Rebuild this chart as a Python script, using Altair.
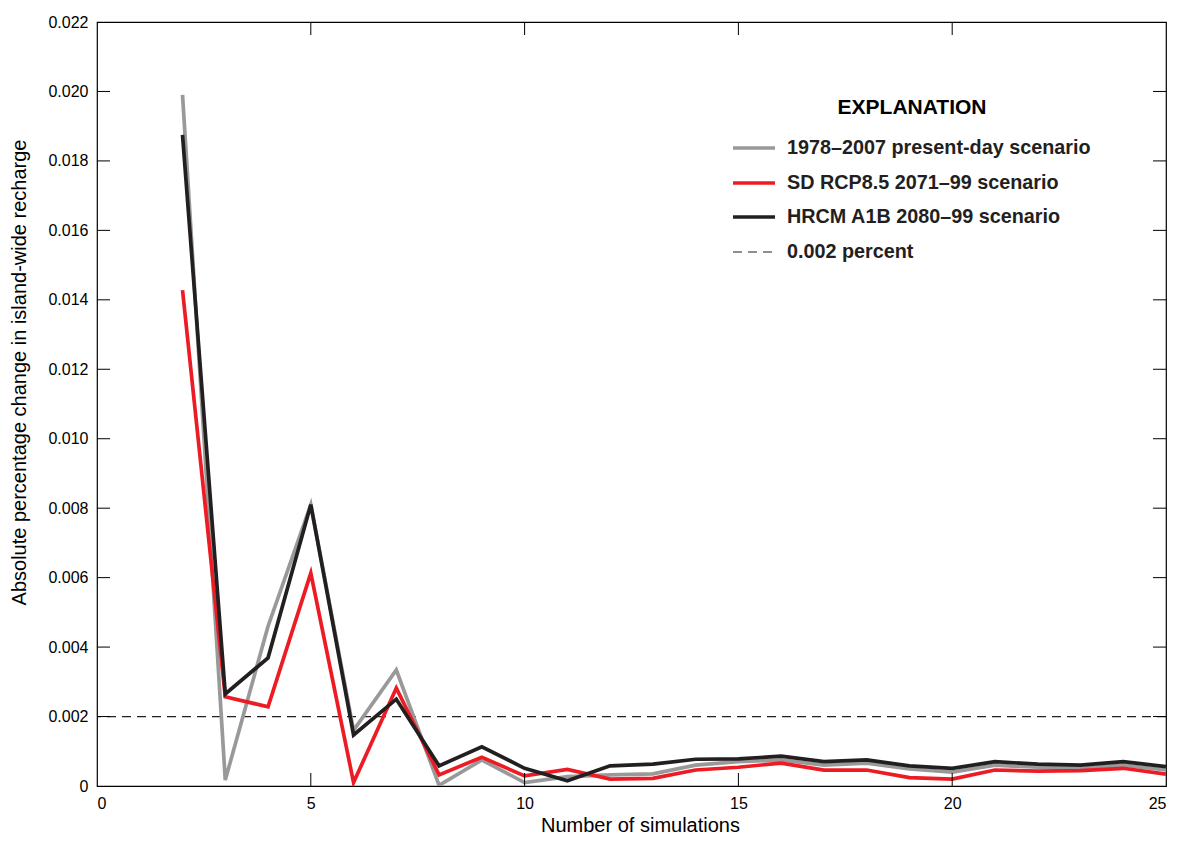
import altair as alt
import pandas as pd

# ---- data ----
sims = list(range(2, 26))
present_day = [0.0199, 0.00017, 0.0046, 0.0081, 0.0016, 0.00334, 0.00002, 0.00075,
               0.0001, 0.00027, 0.00032, 0.00035, 0.0006, 0.0007, 0.00075, 0.0006,
               0.00066, 0.00049, 0.0004, 0.0006, 0.00054, 0.00051, 0.0006, 0.00046]
sd_rcp85 = [0.01428, 0.00257, 0.00228, 0.00613, 0.0001, 0.00282, 0.00032, 0.00083,
            0.00029, 0.00048, 0.0002, 0.00022, 0.00046, 0.00054, 0.00066, 0.00046,
            0.00046, 0.00024, 0.0002, 0.00046, 0.00043, 0.00044, 0.00051, 0.00034]
hrcm_a1b = [0.01875, 0.00265, 0.00369, 0.0081, 0.00147, 0.0025, 0.00058, 0.00113,
            0.00051, 0.00015, 0.00058, 0.00063, 0.00077, 0.00078, 0.00086, 0.0007,
            0.00075, 0.00058, 0.00051, 0.0007, 0.00063, 0.0006, 0.0007, 0.00056]
series_names = ["1978\u20132007 present-day scenario",
                "SD RCP8.5 2071\u201399 scenario",
                "HRCM A1B 2080\u201399 scenario"]
threshold_label = "0.002 percent"
threshold = 0.002
y_ticks = [0, 0.002, 0.004, 0.006, 0.008, 0.010, 0.012, 0.014, 0.016, 0.018, 0.020, 0.022]
x_ticks = [0, 5, 10, 15, 20, 25]
legend_title = "EXPLANATION"
x_title = "Number of simulations"
y_title = "Absolute percentage change in island-wide recharge"

# ---- styles ----
colors = ["#999999", "#ED1C24", "#231F20"]
FONT = "Liberation Sans"
W, H = 1069, 764
TICK = 13

xs = alt.Scale(domain=[0, 25], nice=False, zero=False)
ys = alt.Scale(domain=[0, 0.022], nice=False)

all_series = [present_day, sd_rcp85, hrcm_a1b]
layers = []

# threshold dashed line
thr_df = pd.DataFrame({"y": [threshold]})
layers.append(alt.Chart(thr_df).mark_rule(color="#231F20", strokeWidth=1.2, strokeDash=[9, 6]).encode(
    y=alt.Y("y:Q", scale=ys)))

for i, (name, vals) in enumerate(zip(series_names, all_series)):
    df = pd.DataFrame({"x": sims, "y": vals})
    ch = alt.Chart(df).mark_line(color=colors[i], strokeWidth=3.7, clip=True).encode(
        x=alt.X("x:Q", scale=xs,
                axis=alt.Axis(values=x_ticks, title=x_title, domain=False, ticks=False, grid=False,
                              labelFont=FONT, labelFontSize=16, labelColor="black", labelPadding=9,
                              titleFont=FONT, titleFontSize=20, titleFontWeight="normal",
                              titleColor="black", titlePadding=4, titleX=543)),
        y=alt.Y("y:Q", scale=ys,
                axis=alt.Axis(values=y_ticks, title=y_title, domain=False, ticks=False, grid=False,
                              labelExpr="datum.value == 0 ? '0' : format(datum.value, '.3f')",
                              labelFont=FONT, labelFontSize=16, labelColor="black", labelPadding=9,
                              titleFont=FONT, titleFontSize=20, titleFontWeight="normal",
                              titleColor="black", titlePadding=18, titleY=350)),
    )
    layers.append(ch)

# inward ticks on all four sides
yt_df = pd.DataFrame({"v": y_ticks[1:-1]})
xt_df = pd.DataFrame({"v": x_ticks[1:-1]})
layers.append(alt.Chart(yt_df).mark_rule(color="black", strokeWidth=1).encode(
    y=alt.Y("v:Q", scale=ys), x=alt.value(0), x2=alt.value(TICK)))
layers.append(alt.Chart(yt_df).mark_rule(color="black", strokeWidth=1).encode(
    y=alt.Y("v:Q", scale=ys), x=alt.value(W - TICK), x2=alt.value(W)))
layers.append(alt.Chart(xt_df).mark_rule(color="black", strokeWidth=1).encode(
    x=alt.X("v:Q", scale=xs), y=alt.value(H - TICK), y2=alt.value(H)))
layers.append(alt.Chart(xt_df).mark_rule(color="black", strokeWidth=1).encode(
    x=alt.X("v:Q", scale=xs), y=alt.value(0), y2=alt.value(TICK)))

# manual legend ("EXPLANATION")
LX0, LX1, LTX = 636, 678, 690
row_y = [126, 161, 195, 230]
layers.append(alt.Chart(pd.DataFrame({"t": [legend_title]})).mark_text(
    font=FONT, fontSize=21, fontWeight="bold", color="black", align="center", baseline="middle").encode(
    text="t:N", x=alt.value(815), y=alt.value(86)))
legend_items = series_names + [threshold_label]
for i, lab in enumerate(legend_items):
    d = pd.DataFrame({"t": [lab]})
    if i < 3:
        layers.append(alt.Chart(d).mark_rule(color=colors[i], strokeWidth=3.7).encode(
            x=alt.value(LX0), x2=alt.value(LX1), y=alt.value(row_y[i])))
    else:
        layers.append(alt.Chart(d).mark_rule(color="#231F20", strokeWidth=1.2, strokeDash=[9, 6]).encode(
            x=alt.value(LX0), x2=alt.value(LX1), y=alt.value(row_y[i])))
    layers.append(alt.Chart(d).mark_text(
        font=FONT, fontSize=19.8, fontWeight="bold", color="#231F20", align="left", baseline="middle").encode(
        text="t:N", x=alt.value(LTX), y=alt.value(row_y[i])))

chart = alt.layer(*layers).properties(
    width=W, height=H,
    autosize=alt.AutoSizeParams(type="none"),
    padding={"left": 89, "top": 14, "right": 6, "bottom": 48},
    background="white",
).configure_view(stroke="black", strokeWidth=1.2)

chart.save("out.html", embed_options={"renderer": "svg", "actions": False})
